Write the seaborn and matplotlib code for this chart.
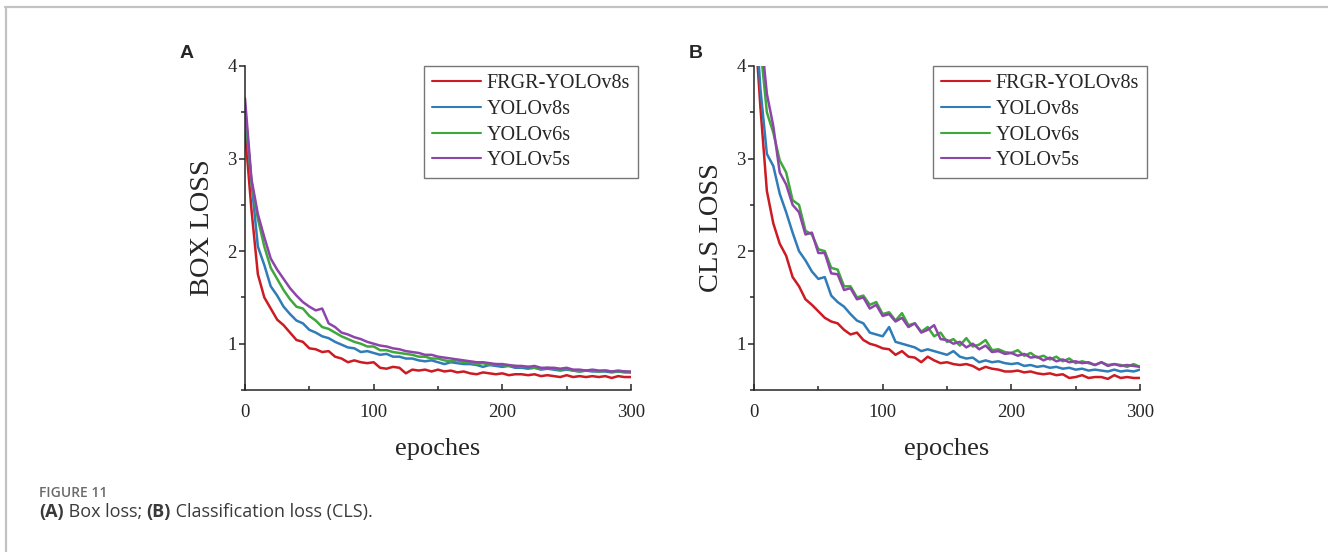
import pandas as pd
import seaborn as sns
import matplotlib.pyplot as plt
from matplotlib.lines import Line2D
from matplotlib.ticker import MultipleLocator

# epochs sampled every 5
epochs = list(range(0, 301, 5))
models = ["FRGR-YOLOv8s", "YOLOv8s", "YOLOv6s", "YOLOv5s"]
colors = ["#cc1b22", "#2f7cb8", "#3ea83b", "#8e45aa"]

# (A) box loss
box_frgr = [3.30, 2.45, 1.75, 1.50, 1.38, 1.26, 1.20, 1.12, 1.04, 1.02,
            0.95, 0.94, 0.91, 0.92, 0.86, 0.84, 0.80, 0.82, 0.80, 0.79,
            0.80, 0.74, 0.73, 0.75, 0.74, 0.68, 0.72, 0.71, 0.72, 0.70,
            0.72, 0.70, 0.71, 0.69, 0.70, 0.68, 0.67, 0.69, 0.68, 0.67,
            0.68, 0.66, 0.67, 0.67, 0.66, 0.67, 0.65, 0.66, 0.65, 0.64,
            0.66, 0.64, 0.65, 0.64, 0.65, 0.64, 0.65, 0.63, 0.65, 0.64, 0.64]
box_v8 = [3.50, 2.75, 2.05, 1.85, 1.62, 1.52, 1.40, 1.32, 1.25, 1.22,
          1.15, 1.12, 1.08, 1.06, 1.02, 0.99, 0.96, 0.95, 0.91, 0.92,
          0.90, 0.88, 0.89, 0.86, 0.86, 0.84, 0.84, 0.82, 0.81, 0.82,
          0.80, 0.78, 0.80, 0.79, 0.78, 0.78, 0.77, 0.75, 0.77, 0.76,
          0.75, 0.76, 0.74, 0.74, 0.73, 0.74, 0.72, 0.73, 0.72, 0.71,
          0.72, 0.71, 0.70, 0.71, 0.70, 0.70, 0.70, 0.69, 0.70, 0.69, 0.69]
box_v6 = [3.55, 2.75, 2.35, 2.05, 1.82, 1.70, 1.58, 1.48, 1.40, 1.38,
          1.30, 1.25, 1.18, 1.16, 1.12, 1.08, 1.05, 1.02, 1.00, 0.97,
          0.97, 0.93, 0.93, 0.91, 0.90, 0.89, 0.88, 0.86, 0.86, 0.84,
          0.84, 0.82, 0.81, 0.82, 0.80, 0.80, 0.78, 0.79, 0.77, 0.78,
          0.77, 0.76, 0.76, 0.75, 0.75, 0.74, 0.73, 0.74, 0.73, 0.72,
          0.73, 0.71, 0.70, 0.71, 0.71, 0.70, 0.71, 0.70, 0.70, 0.70, 0.69]
box_v5 = [3.65, 2.78, 2.40, 2.15, 1.92, 1.80, 1.70, 1.60, 1.52, 1.45,
          1.40, 1.36, 1.38, 1.22, 1.18, 1.12, 1.10, 1.07, 1.05, 1.02,
          1.00, 0.98, 0.97, 0.95, 0.94, 0.92, 0.91, 0.90, 0.88, 0.88,
          0.86, 0.85, 0.84, 0.83, 0.82, 0.81, 0.80, 0.80, 0.79, 0.78,
          0.78, 0.77, 0.76, 0.76, 0.75, 0.76, 0.74, 0.74, 0.74, 0.73,
          0.74, 0.72, 0.72, 0.71, 0.72, 0.71, 0.71, 0.70, 0.71, 0.70, 0.70]

# (B) classification loss
cls_frgr = [4.60, 3.55, 2.65, 2.30, 2.08, 1.95, 1.72, 1.62, 1.48, 1.42,
            1.35, 1.28, 1.24, 1.22, 1.15, 1.10, 1.12, 1.04, 1.00, 0.98,
            0.95, 0.94, 0.88, 0.92, 0.86, 0.85, 0.80, 0.86, 0.82, 0.79,
            0.80, 0.78, 0.77, 0.78, 0.76, 0.72, 0.75, 0.73, 0.72, 0.70,
            0.70, 0.71, 0.69, 0.70, 0.68, 0.67, 0.68, 0.66, 0.67, 0.63,
            0.64, 0.66, 0.63, 0.64, 0.64, 0.62, 0.66, 0.63, 0.64, 0.63, 0.63]
cls_v8 = [4.80, 3.75, 3.05, 2.92, 2.62, 2.42, 2.20, 2.00, 1.90, 1.78,
          1.70, 1.72, 1.52, 1.45, 1.40, 1.32, 1.25, 1.22, 1.12, 1.10,
          1.08, 1.18, 1.02, 1.00, 0.98, 0.96, 0.92, 0.94, 0.92, 0.90,
          0.88, 0.92, 0.86, 0.84, 0.85, 0.80, 0.82, 0.80, 0.81, 0.79,
          0.78, 0.79, 0.76, 0.77, 0.75, 0.76, 0.74, 0.75, 0.73, 0.74,
          0.72, 0.73, 0.71, 0.72, 0.71, 0.70, 0.72, 0.70, 0.71, 0.70, 0.72]
cls_v6 = [5.00, 4.20, 3.50, 3.28, 2.98, 2.85, 2.55, 2.50, 2.22, 2.18,
          2.02, 2.00, 1.82, 1.80, 1.62, 1.62, 1.50, 1.52, 1.42, 1.45,
          1.32, 1.34, 1.25, 1.33, 1.20, 1.22, 1.13, 1.18, 1.08, 1.12,
          1.02, 1.05, 0.98, 1.06, 0.97, 0.99, 1.04, 0.93, 0.94, 0.91,
          0.90, 0.93, 0.87, 0.90, 0.85, 0.87, 0.83, 0.86, 0.81, 0.84,
          0.79, 0.81, 0.79, 0.77, 0.80, 0.77, 0.78, 0.77, 0.75, 0.78, 0.75]
cls_v5 = [5.20, 4.40, 3.70, 3.35, 2.85, 2.72, 2.50, 2.42, 2.18, 2.20,
          1.98, 1.98, 1.76, 1.75, 1.58, 1.60, 1.48, 1.50, 1.38, 1.42,
          1.30, 1.32, 1.24, 1.28, 1.18, 1.22, 1.12, 1.15, 1.20, 1.05,
          1.04, 1.00, 1.02, 0.96, 1.00, 0.94, 0.98, 0.91, 0.92, 0.89,
          0.90, 0.87, 0.89, 0.85, 0.86, 0.82, 0.85, 0.81, 0.83, 0.80,
          0.81, 0.79, 0.80, 0.77, 0.80, 0.76, 0.78, 0.76, 0.77, 0.76, 0.75]


def long_df(series):
    frames = []
    for name, vals in zip(models, series):
        frames.append(pd.DataFrame({"epoch": epochs, "loss": vals, "model": name}))
    return pd.concat(frames, ignore_index=True)


sns.set_style("ticks")
plt.rcParams["font.family"] = ["Liberation Serif", "DejaVu Serif"]
plt.rcParams["axes.linewidth"] = 1.1

W, H = 1328, 552
fig = plt.figure(figsize=(W / 100, H / 100), dpi=100)
fig.patch.set_facecolor("white")

panels = [
    (245, 631, "BOX LOSS", long_df([box_frgr, box_v8, box_v6, box_v5]), "A"),
    (754, 1140, "CLS LOSS", long_df([cls_frgr, cls_v8, cls_v6, cls_v5]), "B"),
]
palette = dict(zip(models, colors))

for x0, x1, ylab, df, letter in panels:
    ax = fig.add_axes([x0 / W, 1 - 390 / H, (x1 - x0) / W, (390 - 66) / H])
    sns.lineplot(data=df, x="epoch", y="loss", hue="model", hue_order=models,
                 palette=palette, linewidth=1.8, ax=ax, legend=False)
    ax.set_xlim(0, 300)
    ax.set_ylim(0.5, 4)
    ax.xaxis.set_major_locator(MultipleLocator(100))
    ax.xaxis.set_minor_locator(MultipleLocator(50))
    ax.yaxis.set_major_locator(MultipleLocator(1))
    ax.yaxis.set_minor_locator(MultipleLocator(0.5))
    ax.tick_params(axis="x", which="both", direction="in", labelsize=13.5, pad=10)
    ax.tick_params(axis="y", which="both", direction="out", labelsize=13.5, pad=2)
    ax.tick_params(which="major", length=4, width=1.1)
    ax.tick_params(which="minor", length=3, width=1.1)
    for s in ["top", "right"]:
        ax.spines[s].set_visible(False)
    ax.set_ylabel(ylab, fontsize=20.5, labelpad=9)
    ax.set_xlabel("epoches", fontsize=19, labelpad=12)

    handles = [Line2D([], [], color=c, lw=1.5) for c in colors]
    leg = ax.legend(handles, models, loc="upper right",
                    bbox_to_anchor=((x1 + 7) / W, 1 - 66 / H),
                    bbox_transform=fig.transFigure, borderaxespad=0,
                    fontsize=14.5, frameon=True, fancybox=False,
                    handlelength=2.4, handletextpad=0.3, borderpad=0.4,
                    labelspacing=0.33)
    leg.get_frame().set_edgecolor("#555555")
    leg.get_frame().set_linewidth(1.0)

    fig.text((x0 - 65) / W, 1 - 53 / H, letter, fontsize=14, fontweight="bold",
             family=["Liberation Sans", "DejaVu Sans"], va="center", ha="left")

# page frame lines
fig.add_artist(Line2D([5 / W, 1], [1 - 6.5 / H, 1 - 6.5 / H], color="#c2c2c2", lw=1.6))
fig.add_artist(Line2D([6 / W, 6 / W], [0, 1 - 6.5 / H], color="#c2c2c2", lw=1.6))

# caption
cap_font = ["Open Sans", "DejaVu Sans"]
fig.text(39 / W, 1 - 497 / H, "FIGURE 11", fontsize=10, color="#6b6b6b",
         family=cap_font, fontweight="semibold", va="baseline")
t = fig.text(39 / W, 1 - 517 / H, "(A)", fontsize=13, color="#3a3a3a",
             family=cap_font, fontweight="bold", va="baseline")
pieces = [(" Box loss; ", "normal"), ("(B)", "bold"),
          (" Classification loss (CLS).", "normal")]
for txt, wt in pieces:
    t = ax.annotate(txt, xy=(1, 0), xycoords=t, xytext=(0, 0),
                    textcoords="offset points", fontsize=13, color="#3a3a3a",
                    family=cap_font, fontweight=wt, va="bottom", ha="left",
                    annotation_clip=False)

fig.savefig("out.png", dpi=100, facecolor="white")
